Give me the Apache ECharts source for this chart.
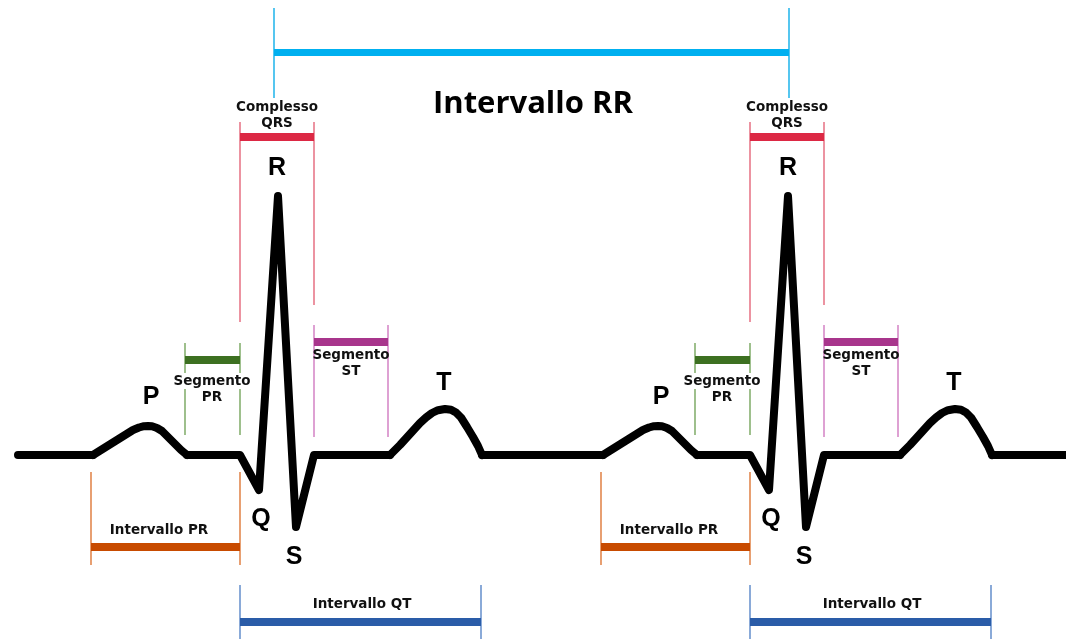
<!DOCTYPE html>
<html>
<head>
<meta charset="utf-8">
<title>ECG - intervalli</title>
<script src="https://cdn.jsdelivr.net/npm/echarts@6/dist/echarts.min.js"></script>
<style>
  html, body { margin: 0; padding: 0; background: #fff; }
  #ecg_ref { width: 1066px; height: 639px; }
</style>
</head>
<body>
<div id="ecg_ref"></div>
<script>
// tratti spigolosi (linea isoelettrica + QRS); null = interruzione
const sharpTime = [18, 93, null, 187, 240, 259, 278, 296, 314, 390, null,
  482, 603, null, 697, 750, 769, 788, 806, 824, 900, null, 992, 1066];
const sharpAmp = [0, 0, null, 0, 0, -35, 259, -72, 0, 0, null,
  0, 0, null, 0, 0, -35, 259, -72, 0, 0, null, 0, 0];

// onde arrotondate P e T
const roundTime = [93, 113, 133, 139, 144, 148, 152, 157, 162, 169, 175, 181, 187, null,
  390, 400, 410, 420, 426, 432, 438, 445, 451, 456, 461, 467, 473, 478, 482, null,
  603, 623, 643, 649, 654, 658, 662, 667, 672, 679, 685, 691, 697, null,
  900, 910, 920, 930, 936, 942, 948, 955, 961, 966, 971, 977, 983, 988, 992];
const roundAmp = [0, 12.5, 25, 27.5, 28.8, 29, 28.7, 27, 24, 17, 11, 5, 0, null,
  0, 10, 21, 32, 37.5, 42, 44.8, 46, 45.2, 42.5, 37.5, 28, 18, 9, 0, null,
  0, 12.5, 25, 27.5, 28.8, 29, 28.7, 27, 24, 17, 11, 5, 0, null,
  0, 10, 21, 32, 37.5, 42, 44.8, 46, 45.2, 42.5, 37.5, 28, 18, 9, 0];

// onde
const waveNames = ["P", "Q", "R", "S", "T", "P", "Q", "R", "S", "T"];
const waveTime = [151, 261, 277, 294, 444, 661, 771, 788, 804, 954];
const waveAmp = [58, -64, 287, -102, 72, 58, -64, 287, -102, 72];

// intervalli e segmenti
const intervalKind = ["RR", "QRS", "QRS", "SPR", "SPR", "SST", "SST", "IPR", "IPR", "IQT", "IQT"];
const intervalStart = [274, 240, 750, 185, 695, 314, 824, 91, 601, 240, 750];
const intervalEnd = [789, 314, 824, 240, 750, 388, 898, 240, 750, 481, 991];
const intervalLevel = [403, 318, 318, 95, 95, 113, 113, -92, -92, -167, -167];
const tickHigh = [447, 333, 333, 112, 112, 130, 130, -17, -17, -130, -130];
const tickLowLeft = [357, 133, 133, 20, 20, 18, 18, -110, -110, -190, -190];
const tickLowRight = [357, 150, 150, 20, 20, 18, 18, -110, -110, -190, -190];
const labelTime = [533, 277, 787, 212, 722, 351, 861, 159, 669, 362, 872];
const labelAmp = [351, 340, 340, 66, 66, 92, 92, -75, -75, -149, -149];

const kindStyle = {
  RR: { bar: "#00b0f0", tick: "#2bb8ec", text: ["Intervallo RR"] },
  QRS: { bar: "#dc2844", tick: "#e8788a", text: ["Complesso", "QRS"] },
  SPR: { bar: "#3d7021", tick: "#86b070", text: ["Segmento", "PR"], bg: true },
  SST: { bar: "#a8358c", tick: "#d68ac8", text: ["Segmento", "ST"] },
  IPR: { bar: "#c84b00", tick: "#e2884f", text: ["Intervallo PR"] },
  IQT: { bar: "#2a5ca8", tick: "#6d95cf", text: ["Intervallo QT"] },
};

const chart = echarts.init(document.getElementById("ecg_ref"));

const toPoints = (xs, ys) => xs.map((t, i) => (t === null ? ["-", "-"] : [t, ys[i]]));

const tickData = [];
const barData = [];
const textData = [];
intervalKind.forEach((kind, i) => {
  const st = kindStyle[kind];
  tickData.push({
    coords: [[intervalStart[i], tickHigh[i]], [intervalStart[i], tickLowLeft[i]]],
    lineStyle: { color: st.tick, width: 1.6, opacity: 1 },
  });
  tickData.push({
    coords: [[intervalEnd[i], tickHigh[i]], [intervalEnd[i], tickLowRight[i]]],
    lineStyle: { color: st.tick, width: 1.6, opacity: 1 },
  });
  barData.push({
    coords: [[intervalStart[i], intervalLevel[i]], [intervalEnd[i], intervalLevel[i]]],
    lineStyle: { color: st.bar, width: kind === "RR" ? 7 : 8, opacity: 1 },
  });
  let label;
  if (kind === "RR") {
    label = {
      formatter: st.text[0],
      fontFamily: "Open Sans",
      fontWeight: "bold",
      fontSize: 31,
      color: "#000",
    };
  } else {
    label = {
      formatter: st.text.length > 1
        ? "{a|" + st.text[0] + "}\n{b|" + st.text[1] + "}"
        : "{b|" + st.text[0] + "}",
      rich: {
        a: {
          fontFamily: "DejaVu Sans",
          fontWeight: "bold",
          fontSize: 13.5,
          lineHeight: 16,
          color: "#111",
          backgroundColor: st.bg ? "#fff" : "transparent",
          padding: [1, 2, 1, 2],
        },
        b: {
          fontFamily: "DejaVu Sans",
          fontWeight: "bold",
          fontSize: 13.5,
          lineHeight: 16,
          color: "#111",
        },
      },
    };
  }
  textData.push({ value: [labelTime[i], labelAmp[i]], label: label });
});

waveNames.forEach((name, i) => {
  textData.push({
    value: [waveTime[i], waveAmp[i]],
    label: {
      formatter: name,
      fontFamily: "Liberation Sans",
      fontWeight: "bold",
      fontSize: 25,
      color: "#000",
    },
  });
});

const ecgLine = { color: "#000", width: 8, cap: "round", join: "round", opacity: 1 };

const option = {
  animation: false,
  backgroundColor: "#fff",
  grid: { left: 0, right: 0, top: 0, bottom: 0 },
  xAxis: { type: "value", min: 0, max: 1066, show: false },
  yAxis: { type: "value", min: -184, max: 455, show: false },
  series: [
    {
      type: "lines",
      coordinateSystem: "cartesian2d",
      z: 1,
      silent: true,
      data: tickData,
    },
    {
      type: "lines",
      coordinateSystem: "cartesian2d",
      z: 2,
      silent: true,
      data: barData,
    },
    {
      type: "line",
      z: 3,
      silent: true,
      symbol: "none",
      connectNulls: false,
      data: toPoints(sharpTime, sharpAmp),
      lineStyle: ecgLine,
    },
    {
      type: "line",
      z: 3,
      silent: true,
      symbol: "none",
      connectNulls: false,
      data: toPoints(roundTime, roundAmp),
      lineStyle: ecgLine,
    },
    {
      type: "scatter",
      z: 4,
      silent: true,
      symbolSize: 1,
      itemStyle: { color: "transparent", opacity: 1 },
      label: { show: true, position: "inside", align: "center", verticalAlign: "middle" },
      data: textData,
    },
  ],
};
chart.setOption(option);
</script>
</body>
</html>
